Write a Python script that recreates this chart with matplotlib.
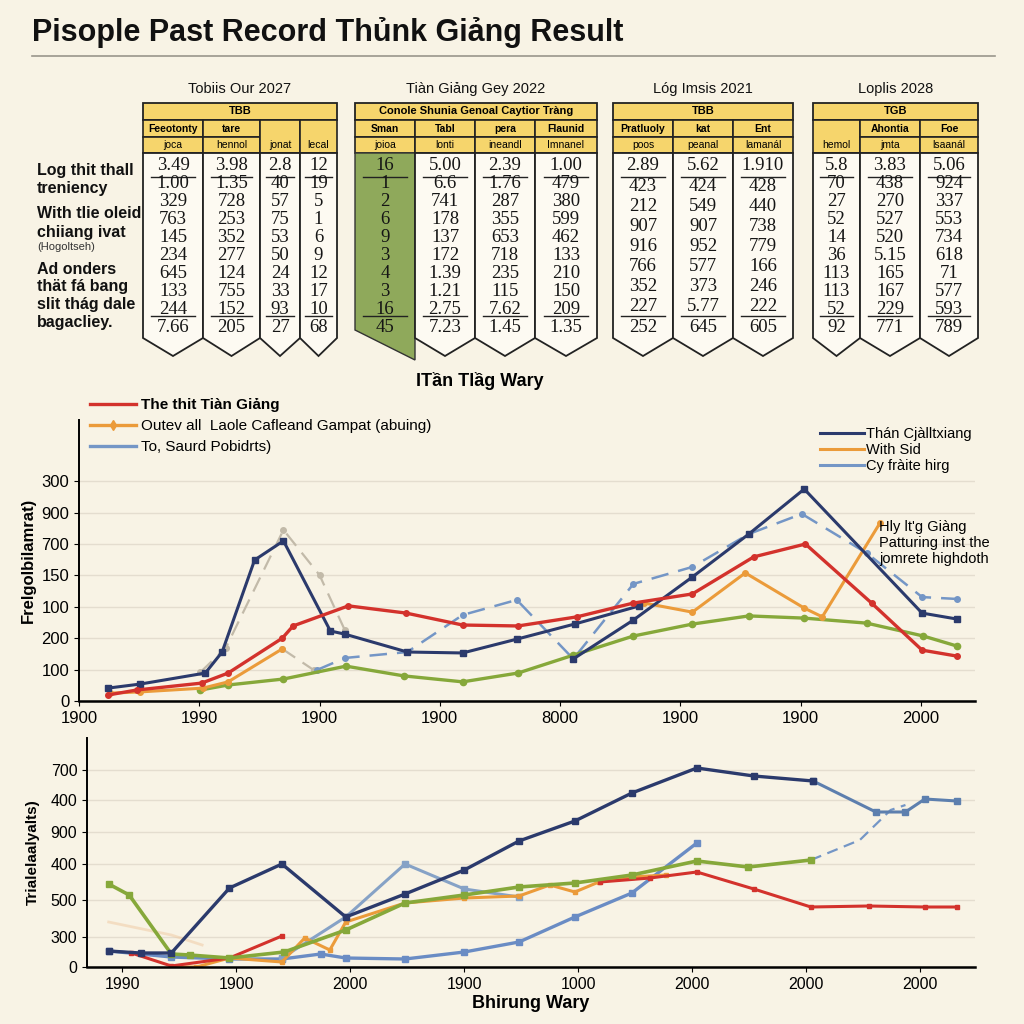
import matplotlib
matplotlib.use("Agg")
import matplotlib.pyplot as plt
import numpy as np
from matplotlib.patches import Polygon, Rectangle
from matplotlib.lines import Line2D

plt.rcParams['font.family'] = ['Liberation Sans', 'DejaVu Sans']

BG = '#f8f3e5'
RED = '#d3322c'
ORANGE = '#eb9b3a'
NAVY = '#2b3a6c'
LBLUE = '#7496c6'
STEEL = '#86a2c6'
GREEN = '#86a83a'
GRAY = '#c2baa9'
YELLOW = '#f6d56c'
GCOL = '#8fa95b'

# ---------------- tables ----------------
t1_title = 'Tobiis Our 2027'
t1_head = 'TBB'
t1_sub1 = ['Feeotonty', 'tare', '', '']
t1_sub2 = ['joca', 'hennol', 'jonat', 'lecal']
t1_vals = [['3.49', '1.00', '329', '763', '145', '234', '645', '133', '244', '7.66'],
           ['3.98', '1.35', '728', '253', '352', '277', '124', '755', '152', '205'],
           ['2.8', '40', '57', '75', '53', '50', '24', '33', '93', '27'],
           ['12', '19', '5', '1', '6', '9', '12', '17', '10', '68']]

t2_title = 'Tiàn Giảng Gey 2022'
t2_head = 'Conole Shunia Genoal Caytior Tràng'
t2_sub1 = ['Sman', 'Tabl', 'pera', 'Flaunid']
t2_sub2 = ['joioa', 'lonti', 'ineandl', 'Imnanel']
t2_vals = [['16', '1', '2', '6', '9', '3', '4', '3', '16', '45'],
           ['5.00', '6.6', '741', '178', '137', '172', '1.39', '1.21', '2.75', '7.23'],
           ['2.39', '1.76', '287', '355', '653', '718', '235', '115', '7.62', '1.45'],
           ['1.00', '479', '380', '599', '462', '133', '210', '150', '209', '1.35']]

t3_title = 'Lóg Imsis 2021'
t3_head = 'TBB'
t3_sub1 = ['Pratluoly', 'kat', 'Ent']
t3_sub2 = ['poos', 'peanal', 'lamanál']
t3_vals = [['2.89', '423', '212', '907', '916', '766', '352', '227', '252'],
           ['5.62', '424', '549', '907', '952', '577', '373', '5.77', '645'],
           ['1.910', '428', '440', '738', '779', '166', '246', '222', '605']]

t4_title = 'Loplis 2028'
t4_head = 'TGB'
t4_sub1 = ['', 'Ahontia', 'Foe']
t4_sub2 = ['hemol', 'jmta', 'lsaanál']
t4_vals = [['5.8', '70', '27', '52', '14', '36', '113', '113', '52', '92'],
           ['3.83', '438', '270', '527', '520', '5.15', '165', '167', '229', '771'],
           ['5.06', '924', '337', '553', '734', '618', '71', '577', '593', '789']]

side_text = ['Log thit thall', 'treniency', 'With tlie oleid', 'chiiang ivat',
             '(Hogoltseh)', 'Ad onders', 'thät fá bang', 'slit thág dale', 'bagacliey.']

# ---------------- middle chart ----------------
mid_xticks = ['1900', '1990', '1900', '1900', '8000', '1900', '1900', '2000']
mid_yticks = ['0', '100', '200', '100', '150', '700', '900', '300']

mid_red_x = [0.24, 0.48, 1.02, 1.24, 1.69, 1.78, 2.24, 2.72, 3.19, 3.65, 4.14, 4.61, 5.10, 5.61, 6.04, 6.59, 7.01, 7.30]
mid_red_y = [0.19, 0.35, 0.57, 0.89, 2.00, 2.39, 3.03, 2.80, 2.42, 2.39, 2.68, 3.12, 3.41, 4.59, 5.00, 3.12, 1.62, 1.43]

mid_navy_x = [0.24, 0.51, 1.05, 1.19, 1.46, 1.70, 2.09, 2.21, 2.73, 3.19, 3.64, 4.12, 4.66]
mid_navy_y = [0.41, 0.54, 0.89, 1.56, 4.49, 5.10, 2.23, 2.13, 1.56, 1.53, 1.97, 2.45, 3.03]

mid_navy2_x = [4.11, 4.61, 5.10, 5.57, 6.03, 7.01, 7.30]
mid_navy2_y = [1.34, 2.58, 3.95, 5.32, 6.75, 2.80, 2.61]

mid_orange_x = [0.26, 0.51, 1.03, 1.24, 1.69, np.nan, 4.70, 5.10, 5.54, 6.03, 6.18, 6.66]
mid_orange_y = [0.25, 0.29, 0.41, 0.61, 1.66, np.nan, 3.12, 2.83, 4.08, 2.96, 2.68, 5.67]

mid_green_x = [1.01, 1.24, 1.70, 2.22, 2.70, 3.19, 3.65, 4.11, 4.61, 5.10, 5.57, 6.03, 6.55, 7.02, 7.30]
mid_green_y = [0.35, 0.51, 0.70, 1.11, 0.80, 0.61, 0.89, 1.46, 2.07, 2.45, 2.71, 2.64, 2.48, 2.07, 1.75]

mid_lblue_x = [1.98, 2.21, 2.73, 3.19, 3.64, 4.11, 4.61, 5.10, 5.57, 6.01, 6.55, 7.01, 7.30]
mid_lblue_y = [0.99, 1.37, 1.56, 2.74, 3.22, 1.34, 3.73, 4.27, 5.32, 5.96, 4.71, 3.31, 3.25]

mid_gray_x = [1.01, 1.22, 1.70, 2.00, 2.21, np.nan, 1.69, 1.95]
mid_gray_y = [0.92, 1.69, 5.45, 4.01, 2.26, np.nan, 1.66, 0.99]

# ---------------- bottom chart ----------------
bot_xticks = ['1990', '1900', '2000', '1900', '1000', '2000', '2000', '2000']
bot_ytick_pos = [0, 3.0, 6.7, 10.3, 13.5, 16.7, 19.7]
bot_yticks = ['0', '300', '500', '400', '900', '400', '700']

bot_navy_x = [-0.12, 0.16, 0.43, 0.94, 1.40, 1.96, 2.48, 3.00, 3.48, 3.97, 4.47, 5.04, 5.54, 6.06]
bot_navy_y = [1.6, 1.4, 1.4, 7.9, 10.3, 5.0, 7.3, 9.7, 12.6, 14.6, 17.4, 19.9, 19.1, 18.6]

bot_tail_x = [6.06, 6.61, 6.87, 7.04, 7.32]
bot_tail_y = [18.6, 15.5, 15.5, 16.8, 16.6]

bot_lblue_x = [-0.12, 0.43, 0.94, 1.40, 1.74, 1.96, 2.48, 3.00, 3.48, 3.97, 4.47, 5.04]
bot_lblue_y = [1.6, 1.0, 0.8, 0.8, 1.3, 0.9, 0.8, 1.5, 2.5, 5.0, 7.4, 12.4]

bot_steel_x = [1.40, 1.96, 2.48, 3.00, 3.48]
bot_steel_y = [0.9, 5.0, 10.3, 7.8, 7.0]

bot_green_x = [-0.12, 0.06, 0.43, 0.59, 0.94, 1.42, 1.96, 2.48, 3.00, 3.48, 3.97, 4.47, 5.04, 5.49, 6.04]
bot_green_y = [8.3, 7.2, 1.3, 1.2, 0.9, 1.5, 3.7, 6.4, 7.2, 8.0, 8.4, 9.2, 10.6, 10.0, 10.7]

bot_dash_x = [6.04, 6.47, 6.74, 6.87]
bot_dash_y = [10.7, 12.7, 15.7, 16.2]

bot_red_x = [0.08, 0.43, 0.94, 1.40, np.nan, 4.19, 4.63, 5.04, 5.54, 6.04, 6.55, 7.04, 7.32]
bot_red_y = [1.4, 0.1, 0.9, 3.1, np.nan, 8.5, 8.9, 9.5, 7.8, 6.0, 6.1, 6.0, 6.0]

bot_orange_x = [0.43, 0.65, 0.94, 1.40, 1.60, 1.82, 1.96, 2.48, 3.00, 3.48, 3.75, 3.97, 4.18, 4.47, 4.77]
bot_orange_y = [0.0, 0.0, 0.9, 0.5, 2.9, 1.7, 4.5, 6.4, 6.9, 7.1, 8.2, 7.5, 8.5, 9.0, 9.2]

bot_faint_x = [-0.12, 0.43, 0.70]
bot_faint_y = [4.5, 3.2, 2.2]


def box(l, t, r, b):
    return [l / 1024, 1 - b / 1024, (r - l) / 1024, (b - t) / 1024]


fig = plt.figure(figsize=(10.24, 10.24), dpi=100, facecolor=BG)

# overlay for title, text block and tables
ov = fig.add_axes([0, 0, 1, 1])
ov.set_xlim(0, 1024)
ov.set_ylim(1024, 0)
ov.axis('off')
ov.patch.set_alpha(0)

ov.text(32, 32, 'Pisople Past Record Thủnk Giảng Result', fontsize=22, fontweight='bold',
        va='center', ha='left', color='#111111')
ov.plot([32, 995], [56, 56], color='#9a968c', lw=1.2)

side_y = [170, 188, 214, 232, 247, 270, 287, 305, 322]
for s, y in zip(side_text, side_y):
    small = s.startswith('(')
    ov.text(37, y, s, fontsize=8 if small else 11.5, va='center', ha='left',
            color='#333333' if small else '#111111', fontweight='normal' if small else 'semibold')


def draw_table(edges, title, head, sub1, sub2, cols, green_first=False):
    x0, x1 = edges[0], edges[-1]
    ov.text((x0 + x1) / 2, 89, title, fontsize=10.5, ha='center', va='center', color='#111111')
    ov.add_patch(Rectangle((x0, 103), x1 - x0, 17, fc=YELLOW, ec='#222222', lw=1.3))
    ov.text((x0 + x1) / 2, 111.5, head, fontsize=8, ha='center', va='center', fontweight='bold')
    for i in range(len(edges) - 1):
        a, b = edges[i], edges[i + 1]
        m = (a + b) / 2
        if sub1[i]:
            ov.add_patch(Rectangle((a, 120), b - a, 17, fc=YELLOW, ec='#222222', lw=1.2))
            ov.add_patch(Rectangle((a, 137), b - a, 16, fc=YELLOW, ec='#222222', lw=1.2))
            ov.text(m, 128.5, sub1[i], fontsize=7.5, ha='center', va='center', fontweight='bold')
        else:
            ov.add_patch(Rectangle((a, 120), b - a, 33, fc=YELLOW, ec='#222222', lw=1.2))
        ov.text(m, 145, sub2[i], fontsize=7.5, ha='center', va='center')
        if green_first and i == 0:
            ov.add_patch(Polygon([(a, 153), (b, 153), (b, 360), (a, 330)], closed=True,
                                 fc=GCOL, ec='#333333', lw=1.0))
        else:
            ov.add_patch(Polygon([(a, 153), (b, 153), (b, 338), (m, 356), (a, 338)], closed=True,
                                 fc='#fdfaf2', ec='#222222', lw=1.3))
        vals = cols[i]
        ys = np.linspace(166, 327, len(vals))
        for v, y in zip(vals, ys):
            ov.text(m, y, v, fontsize=13.5, ha='center', va='center',
                    family=['Liberation Serif', 'DejaVu Serif'], color='#151515')
        w = (b - a) * 0.36
        ov.plot([m - w, m + w], [ys[0] + 11, ys[0] + 11], color='#222222', lw=1.0)
        ov.plot([m - w, m + w], [ys[-1] - 11, ys[-1] - 11], color='#222222', lw=1.0)


draw_table([143, 203, 260, 300, 337], t1_title, t1_head, t1_sub1, t1_sub2, t1_vals)
draw_table([355, 415, 475, 535, 597], t2_title, t2_head, t2_sub1, t2_sub2, t2_vals, green_first=True)
draw_table([613, 673, 733, 793], t3_title, t3_head, t3_sub1, t3_sub2, t3_vals)
draw_table([813, 860, 920, 978], t4_title, t4_head, t4_sub1, t4_sub2, t4_vals)

ov.text(480, 381, 'ITần Tlầg Wary', fontsize=13, fontweight='bold', ha='center', va='center')

# ---------------- middle chart ----------------
ax = fig.add_axes(box(79, 420, 975, 701))
ax.set_facecolor(BG)
ax.set_xlim(0, 7.45)
ax.set_ylim(0, 8.95)
for s in ['top', 'right']:
    ax.spines[s].set_visible(False)
ax.spines['left'].set_linewidth(1.4)
ax.spines['bottom'].set_linewidth(1.8)
ax.set_yticks(range(len(mid_yticks)))
ax.set_yticklabels(mid_yticks, fontsize=12)
ax.set_xticks(range(len(mid_xticks)))
ax.set_xticklabels(mid_xticks, fontsize=12)
ax.grid(axis='y', color='#e4ddcf', lw=1.0)
ax.set_axisbelow(True)
ax.set_ylabel('Frelgolbilamrat)', fontsize=12, fontweight='bold', labelpad=4)

ax.plot(mid_gray_x, mid_gray_y, color=GRAY, lw=1.6, dashes=(7, 4), marker='o', ms=4)
ax.plot(mid_lblue_x, mid_lblue_y, color=LBLUE, lw=1.8, dashes=(7, 4), marker='o', ms=4)
ax.plot(mid_green_x, mid_green_y, color=GREEN, lw=2.4, marker='o', ms=4.5)
ax.plot(mid_orange_x, mid_orange_y, color=ORANGE, lw=2.2, marker='o', ms=4)
ax.plot(mid_navy_x, mid_navy_y, color=NAVY, lw=2.2, marker='s', ms=4)
ax.plot(mid_navy2_x, mid_navy2_y, color=NAVY, lw=2.2, marker='s', ms=4)
ax.plot(mid_red_x, mid_red_y, color=RED, lw=2.4, marker='o', ms=4)

leg1 = fig.legend([Line2D([], [], color=RED, lw=2.4),
                   Line2D([], [], color=ORANGE, lw=2.4, marker='d', ms=5),
                   Line2D([], [], color=LBLUE, lw=2.4)],
                  ['The thit Tiàn Giảng', 'Outev all  Laole Cafleand Gampat (abuing)', 'To, Saurd Pobidrts)'],
                  loc='upper left', bbox_to_anchor=(84 / 1024, 1 - 392 / 1024), frameon=False,
                  fontsize=11, handlelength=3.0, labelspacing=0.45, handletextpad=0.3, borderaxespad=0)
leg1.get_texts()[0].set_fontweight('semibold')
fig.legend([Line2D([], [], color=NAVY, lw=2.2),
            Line2D([], [], color=ORANGE, lw=2.2),
            Line2D([], [], color=LBLUE, lw=2.2)],
           ['Thán Cjàlltxiang', 'With Sid', 'Cy fràite hirg'],
           loc='upper left', bbox_to_anchor=(814 / 1024, 1 - 421 / 1024), frameon=False,
           fontsize=10.5, handlelength=3.0, labelspacing=0.15, handletextpad=0.2, borderaxespad=0)

fig.text(879 / 1024, 1 - 543 / 1024, "Hly lt'g Giàng\nPatturing inst the\njomrete highdoth",
         fontsize=10.5, ha='left', va='center', linespacing=1.2, zorder=10)

# ---------------- bottom chart ----------------
bx = fig.add_axes(box(87, 738, 975, 967))
bx.set_facecolor(BG)
bx.set_xlim(-0.31, 7.48)
bx.set_ylim(0, 22.9)
for s in ['top', 'right']:
    bx.spines[s].set_visible(False)
bx.spines['left'].set_linewidth(1.4)
bx.spines['bottom'].set_linewidth(1.8)
bx.set_yticks(bot_ytick_pos)
bx.set_yticklabels(bot_yticks, fontsize=11.5)
bx.set_xticks(range(len(bot_xticks)))
bx.set_xticklabels(bot_xticks, fontsize=11.5)
bx.grid(axis='y', color='#e4ddcf', lw=1.0)
bx.set_axisbelow(True)
bx.set_ylabel('Trialelaalyalts)', fontsize=11, fontweight='bold', labelpad=8)
bx.set_xlabel('Bhirung Wary', fontsize=13, fontweight='bold', labelpad=2)

bx.plot(bot_faint_x, bot_faint_y, color='#f0c9a0', lw=2.0, alpha=0.5)
bx.plot(bot_dash_x, bot_dash_y, color=LBLUE, lw=1.6, dashes=(5, 3))
bx.plot(bot_lblue_x, bot_lblue_y, color='#6a8cc4', lw=2.4, marker='s', ms=4)
bx.plot(bot_steel_x, bot_steel_y, color=STEEL, lw=2.2, marker='s', ms=4)
bx.plot(bot_orange_x, bot_orange_y, color=ORANGE, lw=2.2, marker='s', ms=3.5)
bx.plot(bot_red_x, bot_red_y, color=RED, lw=2.2, marker='s', ms=3.5)
bx.plot(bot_green_x, bot_green_y, color=GREEN, lw=2.6, marker='s', ms=4)
bx.plot(bot_tail_x, bot_tail_y, color='#5d7fae', lw=2.2, marker='s', ms=4)
bx.plot(bot_navy_x, bot_navy_y, color=NAVY, lw=2.4, marker='s', ms=4)

fig.savefig('out.png', dpi=100, facecolor=BG)
